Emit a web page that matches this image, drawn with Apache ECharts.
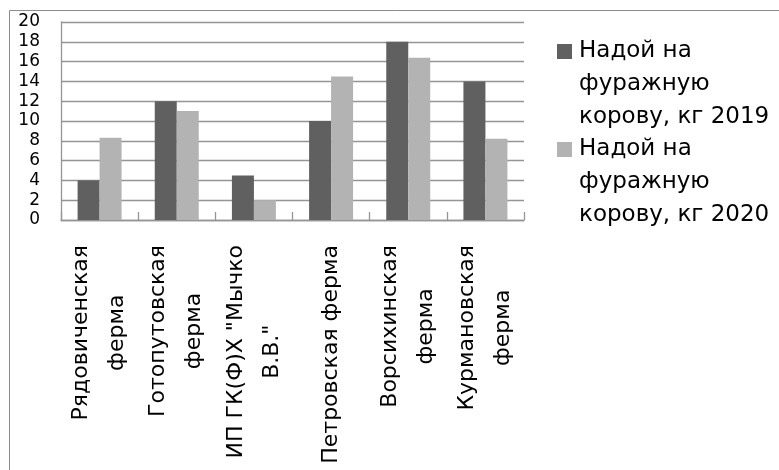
<!DOCTYPE html>
<html>
<head>
<meta charset="utf-8">
<script src="https://cdn.jsdelivr.net/npm/echarts@6/dist/echarts.min.js"></script>
<style>
html,body{margin:0;padding:0;background:#fff;overflow:hidden;}
#chart{width:779px;height:470px;}
</style>
</head>
<body>
<div id="chart"></div>
<script>
const categories = [
  'Рядовиченская\nферма',
  'Готопутовская\nферма',
  'ИП ГК(Ф)Х "Мычко\nВ.В."',
  'Петровская ферма',
  'Ворсихинская\nферма',
  'Курмановская\nферма'
];
const seriesNames = ['Надой на фуражную корову, кг 2019', 'Надой на фуражную корову, кг 2020'];
const values2019 = [4, 12, 4.5, 10, 18, 14];
const values2020 = [8.3, 11, 2, 14.5, 16.4, 8.2];
const yTicks = {min: 0, max: 20, interval: 2};

const colors = ['#606060', '#b3b3b3'];
const FONT = 'DejaVu Sans';
const gridColor = '#959595';

const chart = echarts.init(document.getElementById('chart'), null, {renderer: 'canvas'});

function legendFmt(name) {
  const idx = seriesNames.indexOf(name);
  const sq = idx === 0 ? 's0' : 's1';
  const m = name.match(/^(\S+ \S+) (\S+) (.+)$/);
  const l1 = m ? m[1] : name, l2 = m ? m[2] : '', l3 = m ? m[3] : '';
  return '{' + sq + '|}{g|}{t|' + l1 + '}\n{p|}{t|' + l2 + '}\n{p|}{t|' + l3 + '}';
}

const option = {
  animation: false,
  backgroundColor: '#fff',
  graphic: [{
    type: 'rect',
    silent: true,
    shape: {x: 9.5, y: 10.5, width: 900, height: 900},
    style: {fill: 'none', stroke: '#8c8c8c', lineWidth: 1}
  }],
  grid: {left: 61, right: 255, top: 22, bottom: 250, containLabel: false},
  legend: {
    orient: 'vertical',
    left: 552,
    top: 35,
    padding: 0,
    itemGap: -1,
    itemWidth: 0,
    itemHeight: 0,
    icon: 'rect',
    itemStyle: {opacity: 0},
    selectedMode: false,
    data: seriesNames,
    formatter: legendFmt,
    textStyle: {
      fontFamily: FONT, fontSize: 23, color: '#000', lineHeight: 33,
      rich: {
        s0: {width: 15, height: 15, backgroundColor: colors[0]},
        s1: {width: 15, height: 15, backgroundColor: colors[1]},
        g: {width: 7},
        p: {width: 22},
        t: {fontFamily: FONT, fontSize: 23, color: '#000', lineHeight: 33}
      }
    }
  },
  xAxis: {
    type: 'category',
    data: categories,
    boundaryGap: true,
    axisLine: {show: true, lineStyle: {color: gridColor, width: 1.3}},
    axisTick: {show: true, inside: true, length: 8, lineStyle: {color: gridColor, width: 1.3}},
    splitLine: {show: false},
    axisLabel: {
      interval: 0,
      rotate: 90,
      margin: 25,
      fontFamily: FONT,
      fontSize: 22,
      lineHeight: 36,
      color: '#000',
      formatter: function (v) {
        return v.split('\n').map(function (l) { return '{c|' + l + '}'; }).join('\n');
      },
      rich: {
        c: {align: 'center', fontFamily: FONT, fontSize: 22, lineHeight: 36, color: '#000'}
      }
    }
  },
  yAxis: {
    type: 'value',
    min: yTicks.min,
    max: yTicks.max,
    interval: yTicks.interval,
    axisLine: {show: true, lineStyle: {color: gridColor, width: 1.3}},
    axisTick: {show: false},
    splitLine: {show: true, lineStyle: {color: gridColor, width: 1.3}},
    axisLabel: {fontFamily: FONT, fontSize: 17, color: '#000', margin: 21}
  },
  series: [
    {
      name: seriesNames[0], type: 'bar', data: values2019,
      itemStyle: {color: colors[0]},
      barGap: '0%', barCategoryGap: '43%'
    },
    {
      name: seriesNames[1], type: 'bar', data: values2020,
      itemStyle: {color: colors[1]},
      barGap: '0%', barCategoryGap: '43%'
    }
  ]
};
chart.setOption(option);
</script>
</body>
</html>
